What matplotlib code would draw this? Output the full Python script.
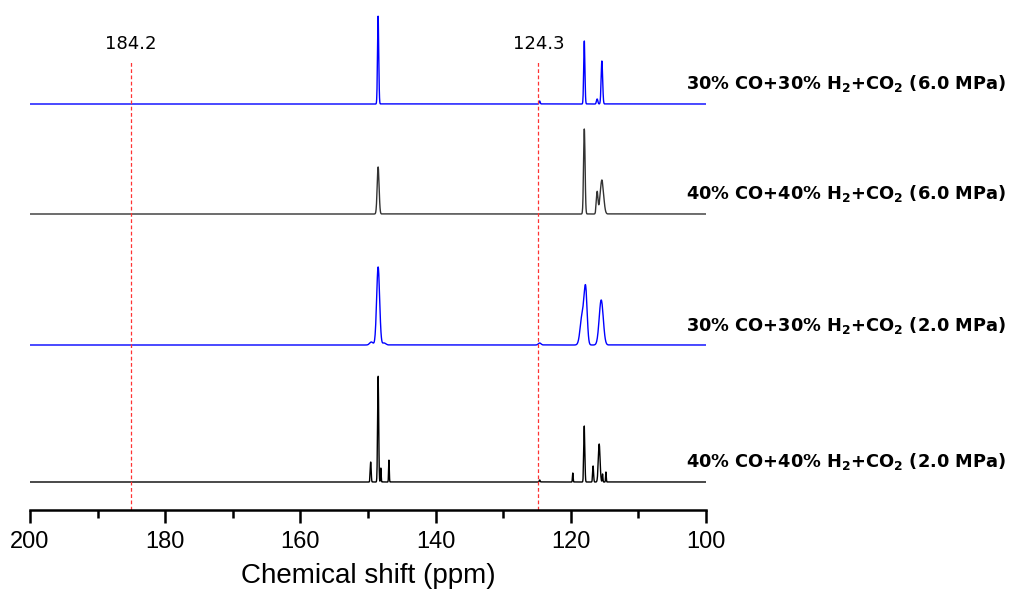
import numpy as np
import matplotlib
matplotlib.use("Agg")
import matplotlib.pyplot as plt
plt.rcParams["mathtext.fontset"] = "dejavusans"
plt.rcParams["mathtext.default"] = "bf"

# peaks: (position ppm, height px, half-width ppm)
labels = ["30% CO+30% H$_2$+CO$_2$ (6.0 MPa)",
          "40% CO+40% H$_2$+CO$_2$ (6.0 MPa)",
          "30% CO+30% H$_2$+CO$_2$ (2.0 MPa)",
          "40% CO+40% H$_2$+CO$_2$ (2.0 MPa)"]
colors = ["#0000ff", "#333333", "#0000ff", "#000000"]
baselines = [104, 214, 345, 482]
pos1 = [148.5, 124.6, 118.0, 116.1, 115.4]
hgt1 = [88, 3, 63, 5, 43]
wid1 = [0.09, 0.08, 0.09, 0.1, 0.11]
pos2 = [148.5, 118.0, 116.1, 115.4]
hgt2 = [47, 85, 22, 34]
wid2 = [0.14, 0.11, 0.12, 0.25]
pos3 = [149.5, 148.5, 147.6, 124.6, 118.3, 117.8, 115.5]
hgt3 = [3, 78, 2, 2, 30, 52, 45]
wid3 = [0.25, 0.22, 0.25, 0.2, 0.3, 0.22, 0.3]
pos4 = [149.6, 148.5, 148.1, 146.9, 124.6, 119.7, 118.0, 116.7, 115.8, 115.3, 114.8]
hgt4 = [20, 106, 14, 22, 2, 9, 56, 16, 38, 8, 10]
wid4 = [0.07, 0.08, 0.05, 0.05, 0.07, 0.05, 0.08, 0.07, 0.13, 0.05, 0.05]
peaks = [(pos1, hgt1, wid1), (pos2, hgt2, wid2), (pos3, hgt3, wid3), (pos4, hgt4, wid4)]
ref_labels = ["184.2", "124.3"]
ref_pos = [185.1, 124.8]

fig = plt.figure(figsize=(10.09, 5.9), dpi=100)
ax = fig.add_axes([30/1009, 1-510/590, 676/1009, 510/590])
x = np.linspace(100, 200, 8000)
for (p, h, w), c, b in zip(peaks, colors, baselines):
    y = np.zeros_like(x)
    for pi, hi, wi in zip(p, h, w):
        y += hi * np.exp(-0.5 * ((x - pi) / wi) ** 2)
    ax.plot(x, -b + y, color=c, lw=1.0)
for lab, b in zip(labels, baselines):
    ax.text((686 - 30) / 676, -b + 20, lab, transform=ax.get_yaxis_transform(),
            fontsize=12.8, fontweight="bold", family="DejaVu Sans", va="center", ha="left", clip_on=False)
for lab, p in zip(ref_labels, ref_pos):
    ax.plot([p, p], [-510, -62], color="#ff3333", ls=(0, (3, 2)), lw=0.9)
    ax.text(p, -44, lab, ha="center", va="center", fontsize=13, family="DejaVu Sans")
ax.set_xlim(200, 100)
ax.set_ylim(-510, 0)
for s in ["top", "left", "right"]:
    ax.spines[s].set_visible(False)
ax.spines["bottom"].set_linewidth(1.8)
ax.set_yticks([])
ax.set_xticks([200, 180, 160, 140, 120, 100])
ax.set_xticks(np.arange(100, 201, 10), minor=True)
ax.tick_params(axis="x", which="major", length=9, width=1.8, labelsize=17, pad=6)
ax.tick_params(axis="x", which="minor", length=6, width=1.8)
for t in ax.get_xticklabels():
    t.set_family("Liberation Sans")
ax.text(150, -576, "Chemical shift (ppm)", ha="center", va="center", fontsize=20,
        family="Liberation Sans", clip_on=False)
fig.savefig("out.png", dpi=100)
